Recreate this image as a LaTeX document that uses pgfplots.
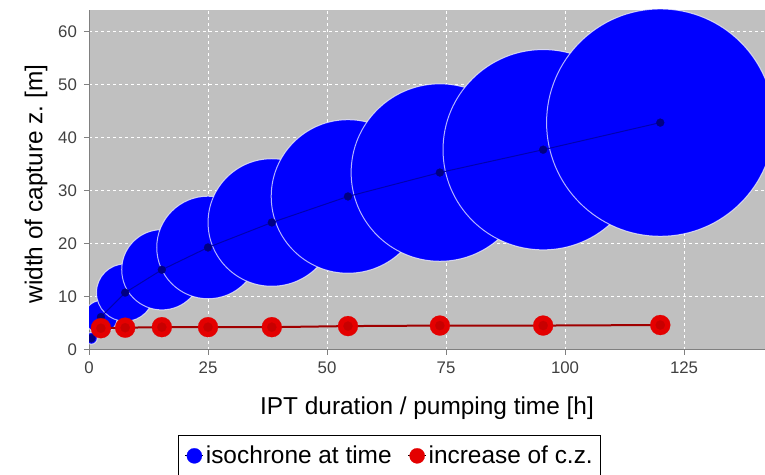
\documentclass[border=0pt]{standalone}
\usepackage{fontspec}
\setmainfont{Liberation Sans}
\usepackage{pgfplots}
\pgfplotsset{compat=1.18}
\usepackage{pgfplotstable}

\definecolor{plotbg}{RGB}{192,192,192}
\definecolor{isoblue}{RGB}{0,0,255}
\definecolor{linenavy}{RGB}{0,0,175}
\definecolor{dotnavy}{RGB}{0,0,130}
\definecolor{czred}{RGB}{228,0,0}
\definecolor{czline}{RGB}{160,0,0}
\definecolor{czdot}{RGB}{200,0,0}
\definecolor{ticktext}{RGB}{64,64,64}

% isochrones: time [h], width of capture zone [m] (circle diameter = width)
\pgfplotstableread{
t     w
0.5   2.2
2.5   6.2
7.6   10.8
15.3  15.1
25    19.3
38.4  24.0
54.4  28.9
73.7  33.4
95.4  37.7
120   42.8
}\isochrones

% increase of capture zone
\pgfplotstableread{
t     w
2.5   4.1
7.6   4.2
15.3  4.3
25    4.3
38.4  4.3
54.4  4.5
73.7  4.6
95.4  4.6
120   4.7
}\increase

\begin{document}
\begin{tikzpicture}
\begin{axis}[
    scale only axis,
    width=338pt, height=170pt,
    xmin=0, xmax=142,
    ymin=0, ymax=64,
    xtick={0,25,50,75,100,125},
    ytick={0,10,20,30,40,50,60},
    axis background/.style={fill=plotbg},
    axis x line*=bottom, axis y line*=left,
    axis line style={draw=gray, line width=0.5pt},
    tick align=outside, major tick length=2.5pt,
    tick style={draw=gray, line width=0.5pt},
    grid=major,
    grid style={white, line width=0.5pt, dash pattern=on 1.5pt off 1.5pt},
    clip marker paths=true,
    /pgf/number format/assume math mode=true,
    ticklabel style={font=\fontsize{8.4}{10}\selectfont, text=ticktext},
    xlabel={IPT duration / pumping time [h]},
    ylabel={width of capture z.\ [m]},
    label style={font=\fontsize{12.2}{14}\selectfont},
    xlabel style={at={(axis description cs:0.5,-0.191)}, anchor=base},
    ylabel style={at={(axis description cs:-0.0688,0.488)}, anchor=base},
    legend image code/.code={
        \draw[mark repeat=2,mark phase=2,#1] plot coordinates {(0pt,0pt) (4.5pt,0pt) (9pt,0pt)};
    },
    legend columns=2,
    legend style={
        at={(axis description cs:0.445,-0.25)}, anchor=north,
        draw=black, line width=0.5pt, fill=white,
        font=\fontsize{12.2}{14}\selectfont,
        inner xsep=3pt, inner ysep=3pt,
        nodes={inner xsep=1pt, inner ysep=2pt},
        /tikz/every even column/.append style={column sep=7pt},
    },
]

% circles, one per isochrone
\addplot[
    forget plot, scatter, only marks, mark=*,
    scatter/use mapped color={draw=white, draw opacity=0.7, fill=isoblue},
    visualization depends on={\thisrow{w} \as \wv},
    scatter/@pre marker code/.append style={/tikz/mark size=1.328125*\wv},
    mark options={line width=0.5pt},
] table[x=t, y=w] {\isochrones};

% line through the centres
\addplot[
    forget plot, color=linenavy, line width=0.5pt,
    mark=*, mark size=2pt, mark options={fill=dotnavy, draw=dotnavy, line width=0.1pt},
] table[x=t, y=w] {\isochrones};

% increase of capture zone
\addplot[
    forget plot, color=czline, line width=1pt,
    mark=*, mark size=5pt, mark options={fill=czred, draw=czred, line width=0.1pt},
] table[x=t, y=w] {\increase};
\addplot[
    forget plot, only marks, color=czdot,
    mark=*, mark size=2.3pt, mark options={fill=czdot, draw=czdot, line width=0.1pt},
] table[x=t, y=w] {\increase};

\addlegendimage{draw=none, mark=*, mark size=3.8pt, mark options={fill=isoblue, draw=isoblue, line width=0.1pt}}
\addlegendentry{isochrone at time}
\addlegendimage{draw=none, mark=*, mark size=3.8pt, mark options={fill=czred, draw=czred, line width=0.1pt}}
\addlegendentry{increase of c.z.}
\end{axis}
\pgfresetboundingbox
\path[use as bounding box] ([xshift=-44.5pt,yshift=-62.5pt]current axis.south west)
    rectangle ([yshift=5pt]current axis.north east);
\end{tikzpicture}
\end{document}
